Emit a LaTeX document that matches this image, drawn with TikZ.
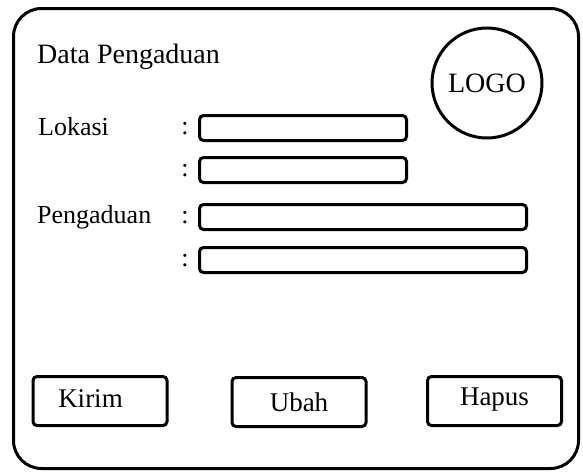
\documentclass[tikz,border=0pt]{standalone}
\usepackage{fontspec}
\setmainfont{Liberation Serif}
\begin{document}
\begin{tikzpicture}[x=1pt,y=-1pt,
  field/.style={draw, line width=3pt, rounded corners=4pt, minimum height=25pt, inner sep=0pt},
  lbl/.style={font=\fontsize{26}{30}\selectfont, anchor=base west, inner sep=0pt},
  colon/.style={font=\fontsize{26}{30}\selectfont, anchor=base, inner sep=0pt},
  btn/.style={draw, line width=3pt, rounded corners=4pt, minimum width=134pt, minimum height=49pt, inner sep=0pt},
  btntxt/.style={font=\fontsize{27}{30}\selectfont, anchor=base, inner sep=0pt}]
\useasboundingbox (0,0) rectangle (583,472);
\draw[line width=3pt, rounded corners=28pt] (13.5,8.5) rectangle (578.5,468.5);
\node[lbl, font=\fontsize{28}{32}\selectfont] (judul) at (37,63){Data Pengaduan};
\node[circle, draw, line width=3pt, minimum size=110pt, inner sep=0pt, font=\fontsize{28}{32}\selectfont] (logo) at (487,83){LOGO};

\node[lbl] (lokasi) at (38,135){Lokasi};
\node[lbl] (pengaduan) at (37,223){Pengaduan};
\node[colon] (c1) at (185,134){:};
\node[colon] (c2) at (185,176){:};
\node[colon] (c3) at (185,223){:};
\node[colon] (c4) at (185,266){:};
\node[field, minimum width=207pt] (lok1) at (303,128){};
\node[field, minimum width=207pt] (lok2) at (303,170){};
\node[field, minimum width=327pt] (peng1) at (363,217){};
\node[field, minimum width=327pt] (peng2) at (363,260){};

\node[btn] (kirim) at (100,401){};
\node[btn] (ubah) at (299,402){};
\node[btn] (hapus) at (494.5,401){};
\node[btntxt] (kirimtxt) at (90.5,407){Kirim};
\node[btntxt] (ubahtxt) at (299,411){Ubah};
\node[btntxt] (hapustxt) at (494.5,405){Hapus};

\end{tikzpicture}
\end{document}
